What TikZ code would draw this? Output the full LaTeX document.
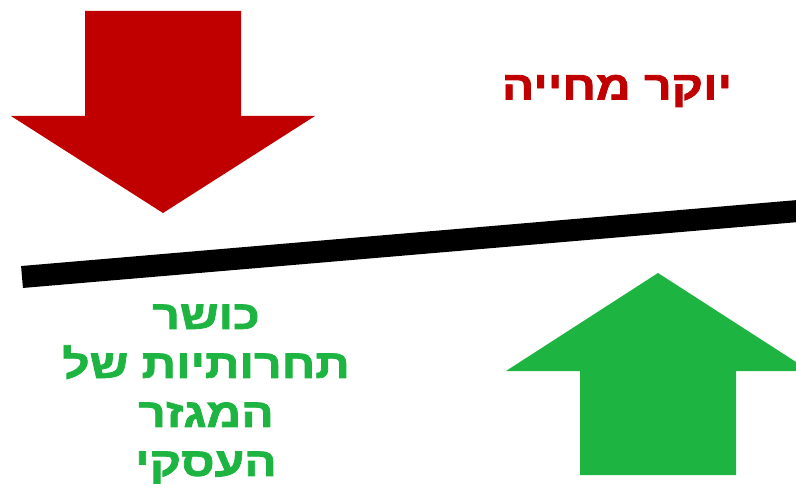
\documentclass[tikz,border=0pt]{standalone}
\usepackage{fontspec}
\usetikzlibrary{positioning}
\TeXXeTstate=1
\newfontfamily\hebfont[Script=Hebrew, FakeStretch=1.2, FakeBold=2]{Liberation Sans Bold}
\definecolor{costc}{HTML}{C00000}
\definecolor{compc}{HTML}{1EB441}

\begin{document}
\begin{tikzpicture}[x=1pt, y=-1pt,
    lever/.style={line width=22pt, black},
    heb/.style={font=\hebfont\fontsize{40}{49}\selectfont, align=center, inner sep=0pt}]
  \useasboundingbox (0,0) rectangle (796,492);
  % down arrow
  \fill[costc] (85,11) -- (241,11) -- (241,116) -- (315,116) -- (163,213)
    -- (11,116) -- (85,116) -- cycle;
  % up arrow
  \fill[compc] (580,475) -- (736,475) -- (736,371) -- (810,371) -- (658,273)
    -- (506,371) -- (580,371) -- cycle;
  % lever
  \coordinate (lleft) at (22,277);
  \coordinate (lright) at (810,210);
  \draw[lever] (lleft) -- (lright);
  \node[heb, text=costc] (cost) at (617,91) {\beginR יוקר מחייה\endR};
  \node[heb, text=compc] (comp) at (206,394) {\beginR כושר\endR\\
    \beginR תחרותיות של\endR\\ \beginR המגזר\endR\\ \beginR העסקי\endR};
\end{tikzpicture}
\end{document}
